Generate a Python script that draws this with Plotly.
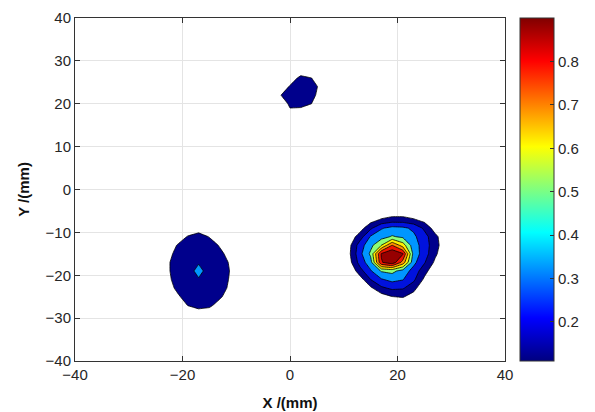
import plotly.graph_objects as go

# ---------------- data ----------------
# Right blob (main source), grid in mm
RIGHT_X = [9, 11, 13, 15, 17, 19, 21, 23, 25, 27, 29, 31]
RIGHT_Y = [-27, -25, -23, -21, -19, -17, -15, -13, -11, -9, -7, -5]
RIGHT_Z = [
    [0, 0, 0, 0, 0, 0, 0, 0, 0, 0, 0, 0],
    [0, 0, 0, 0, 0.05, 0.098, 0.11, 0.05, 0, 0, 0, 0],
    [0, 0, 0, 0.08, 0.18, 0.22, 0.21, 0.14, 0, 0, 0, 0],
    [0, 0, 0.05, 0.20, 0.29, 0.33, 0.305, 0.22, 0.08, 0, 0, 0],
    [0, 0, 0.16, 0.29, 0.41, 0.43, 0.36, 0.26, 0.14, 0.02, 0, 0],
    [0, 0.06, 0.24, 0.36, 0.79, 0.87, 0.66, 0.33, 0.21, 0.08, 0, 0],
    [0, 0.08, 0.27, 0.42, 0.81, 0.89, 0.81, 0.36, 0.25, 0.12, 0.02, 0],
    [0, 0.07, 0.25, 0.37, 0.50, 0.70, 0.55, 0.34, 0.26, 0.13, 0.05, 0],
    [0, 0.03, 0.15, 0.31, 0.36, 0.41, 0.38, 0.32, 0.24, 0.13, 0.02, 0],
    [0, 0, 0.05, 0.18, 0.29, 0.33, 0.32, 0.28, 0.18, 0.05, 0, 0],
    [0, 0, 0, 0.05, 0.11, 0.14, 0.14, 0.11, 0.06, 0, 0, 0],
    [0, 0, 0, 0, 0, 0.02, 0.02, 0, 0, 0, 0, 0],
]

# Top blob
TOP_X = [-4, -2, 0, 2, 4, 6, 8]
TOP_Y = [16, 18, 20, 22, 24, 26, 28, 30]
TOP_Z = [
    [0, 0, 0, 0, 0, 0, 0],
    [0, 0, 0.08, 0.05, 0.03, 0, 0],
    [0, 0.02, 0.12, 0.14, 0.10, 0, 0],
    [0, 0.09, 0.15, 0.17, 0.15, 0.02, 0],
    [0, 0.02, 0.11, 0.16, 0.15, 0.06, 0],
    [0, 0, 0.04, 0.13, 0.101, 0.02, 0],
    [0, 0, 0, 0.02, 0.01, 0, 0],
    [0, 0, 0, 0, 0, 0, 0],
]

# Left blob
LEFT_X = [-25, -23, -21, -19, -17, -15, -13, -11, -9]
LEFT_Y = [-31, -29, -27, -25, -23, -21, -19, -17, -15, -13, -11, -9]
LEFT_Z = [
    [0, 0, 0, 0, 0, 0, 0, 0, 0],
    [0, 0, 0, 0, 0.03, 0.02, 0, 0, 0],
    [0, 0, 0, 0.105, 0.15, 0.13, 0.04, 0, 0],
    [0, 0, 0.07, 0.17, 0.20, 0.19, 0.12, 0.02, 0],
    [0, 0.02, 0.13, 0.20, 0.21, 0.20, 0.15, 0.07, 0],
    [0, 0.04, 0.17, 0.20, 0.26, 0.20, 0.17, 0.08, 0],
    [0, 0.06, 0.18, 0.12, 0.44, 0.12, 0.17, 0.09, 0],
    [0, 0.06, 0.18, 0.20, 0.26, 0.20, 0.16, 0.08, 0],
    [0, 0.03, 0.15, 0.20, 0.21, 0.20, 0.14, 0.03, 0],
    [0, 0, 0.105, 0.19, 0.20, 0.19, 0.08, 0, 0],
    [0, 0, 0.02, 0.11, 0.18, 0.09, 0.02, 0, 0],
    [0, 0, 0, 0, 0, 0, 0, 0, 0],
]

X_TICKS = [-40, -20, 0, 20, 40]
Y_TICKS = [-40, -30, -20, -10, 0, 10, 20, 30, 40]
CB_TICKS = [0.2, 0.3, 0.4, 0.5, 0.6, 0.7, 0.8]
CB_MIN, CB_MAX = 0.11, 0.9

# ---------------- styling ----------------
CLEAR = "rgba(255,255,255,0)"
NAVY = "rgb(0,0,140)"
BLUE = "rgb(0,18,222)"
LBLUE = "rgb(0,150,255)"
GREEN = "rgb(140,255,120)"
YELLOW = "rgb(255,240,0)"
ORANGE = "rgb(255,145,0)"
RED = "rgb(238,20,0)"
DRED = "rgb(150,0,0)"

JET = [[0.0, "rgb(0,0,128)"], [0.125, "rgb(0,0,255)"], [0.375, "rgb(0,255,255)"],
       [0.625, "rgb(255,255,0)"], [0.875, "rgb(255,0,0)"], [1.0, "rgb(128,0,0)"]]


def band_scale(colors):
    n = len(colors) - 1
    stops = []
    for k, c in enumerate(colors):
        stops.append([max(0.0, (k - 0.4) / n), c])
        stops.append([min(1.0, (k + 0.4) / n), c])
    return stops


MAIN_SCALE = band_scale([CLEAR, NAVY, BLUE, LBLUE, GREEN, YELLOW, ORANGE, RED, DRED])
LEFT_SCALE = band_scale([CLEAR, NAVY, LBLUE])

FONT = "Liberation Sans, Arial, sans-serif"
TXT = "#262626"

# page body has an 8px default margin; the figure is sized to fit inside the window
W, H = 587, 404
ML, MR, MT, MB = 67, 89.5, 10, 51

fig = go.Figure()

common = dict(showscale=False, hoverinfo="skip",
              line=dict(color="black", width=0.8, smoothing=0))

fig.add_trace(go.Contour(x=RIGHT_X, y=RIGHT_Y, z=RIGHT_Z, colorscale=MAIN_SCALE,
                         contours=dict(start=0.1, end=0.8, size=0.1, coloring="fill"),
                         **common))
fig.add_trace(go.Contour(x=TOP_X, y=TOP_Y, z=TOP_Z, colorscale=MAIN_SCALE,
                         contours=dict(start=0.1, end=0.8, size=0.1, coloring="fill"),
                         **common))
fig.add_trace(go.Contour(x=LEFT_X, y=LEFT_Y, z=LEFT_Z, colorscale=LEFT_SCALE,
                         contours=dict(start=0.1, end=0.3, size=0.2, coloring="fill"),
                         **common))

plot_w = W - ML - MR
# continuous colorbar
fig.add_trace(go.Scatter(
    x=[None], y=[None], mode="markers", hoverinfo="skip", showlegend=False,
    marker=dict(color=[CB_MIN], cmin=CB_MIN, cmax=CB_MAX, colorscale=JET, showscale=True,
                colorbar=dict(thickness=34, thicknessmode="pixels", len=1, lenmode="fraction",
                              y=0.5, yanchor="middle", x=(513 - ML) / plot_w, xanchor="left",
                              xpad=0, ypad=0, outlinewidth=1, outlinecolor="#333",
                              ticks="inside", ticklen=4, tickcolor="#333",
                              tickvals=CB_TICKS, ticktext=[f"{v:.1f}" for v in CB_TICKS],
                              tickfont=dict(family=FONT, size=15, color=TXT)))))

axis_common = dict(showline=True, linecolor="#333", linewidth=1, mirror="ticks",
                   ticks="inside", ticklen=5, tickcolor="#333", showgrid=True,
                   gridcolor="#e4e4e4", gridwidth=1, zeroline=False, automargin=False,
                   tickfont=dict(family=FONT, size=15, color=TXT))

fig.update_xaxes(range=[-40, 40], tickvals=X_TICKS, **axis_common,
                 title=dict(text="<b>X /(mm)</b>", standoff=15,
                            font=dict(family=FONT, size=15, color="#111")))
fig.update_yaxes(range=[-40, 40], tickvals=Y_TICKS, **axis_common,
                 title=dict(text="<b>Y /(mm)</b>", standoff=12,
                            font=dict(family=FONT, size=15, color="#111")))

fig.update_layout(width=W, height=H,
                  margin=dict(l=ML, r=MR, t=MT, b=MB, autoexpand=False),
                  paper_bgcolor="white", plot_bgcolor="white", showlegend=False)

fig.write_html("out.html")
